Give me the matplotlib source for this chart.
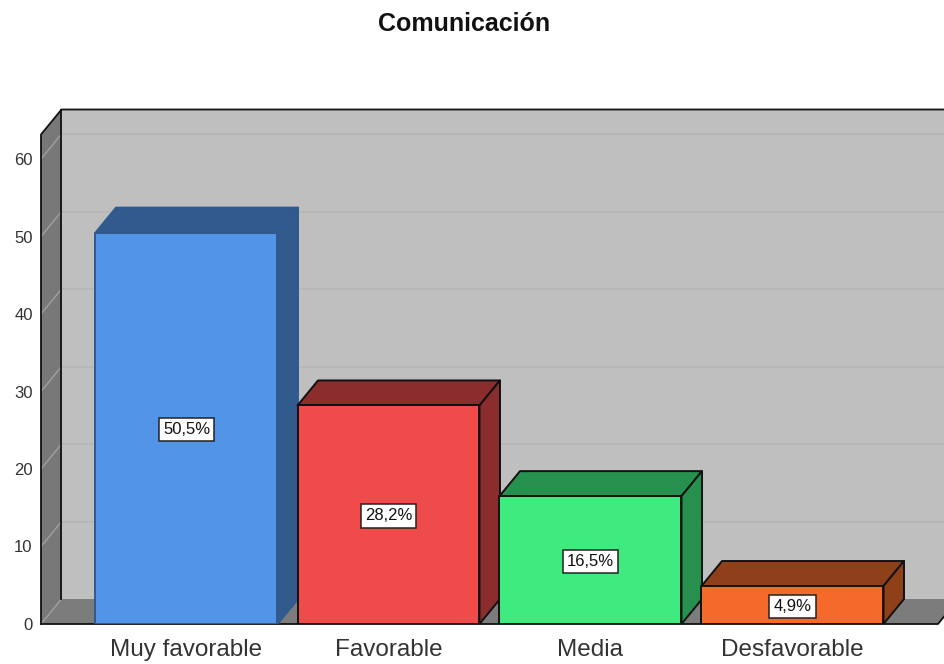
#!/usr/bin/env python3
import matplotlib
matplotlib.use("Agg")
import matplotlib.pyplot as plt
from matplotlib.patches import Polygon

plt.rcParams['font.family'] = ['Liberation Sans', 'DejaVu Sans']

categories = ["Muy favorable", "Favorable", "Media", "Desfavorable"]
values = [50.5, 28.2, 16.5, 4.9]
labels = ["50,5%", "28,2%", "16,5%", "4,9%"]
front_colors = ["#5294E6", "#F04B4B", "#3FEB7E", "#F56A2A"]
side_colors = ["#325A8C", "#8C2D2D", "#26904E", "#8F4018"]
edge_colors = ["#2F5A90", "#111111", "#111111", "#111111"]
y_ticks = [0, 10, 20, 30, 40, 50, 60]

# scale of the axes, in pixels per unit
W, H = 945, 664
PX_X = 202.0
PX_Y = 7.75
LEFT = 41
BOTTOM = 40
ZERO_X = 186.5

BAR_W = 182 / PX_X
DX = 20.5 / PX_X   # depth of the 3d effect
DY = 25 / PX_Y
WALL_TOP = (624 - 134.5) / PX_Y
FLOOR_END = (938 - ZERO_X) / PX_X


def poly(ax, pts, face, edge="none", lw=1.4, z=1):
    ax.add_patch(Polygon(pts, closed=True, facecolor=face, edgecolor=edge,
                         linewidth=lw, zorder=z, joinstyle="round"))


def draw_walls(ax, x0):
    # back wall, left wall, floor
    poly(ax, [(x0 + DX, DY), (FLOOR_END + DX, DY), (FLOOR_END + DX, WALL_TOP + DY),
              (x0 + DX, WALL_TOP + DY)], "#BFBFBF", z=1)
    poly(ax, [(x0, 0), (x0 + DX, DY), (x0 + DX, WALL_TOP + DY), (x0, WALL_TOP)], "#787878", z=2)
    poly(ax, [(x0, 0), (FLOOR_END, 0), (FLOOR_END + DX, DY), (x0 + DX, DY)], "#7C7C7C", z=2)
    for t in y_ticks[1:]:
        ax.plot([x0 + DX, FLOOR_END + DX], [t + DY, t + DY], color="#B5B5B5", lw=1.2, zorder=1.5)
        ax.plot([x0, x0 + DX], [t, t + DY], color="#A0A0A0", lw=1.0, zorder=2.5)
    ax.plot([x0, x0 + DX], [0, DY], color="#A0A0A0", lw=1.0, zorder=2.5)
    # outline of the box
    ax.plot([x0, x0, x0 + DX, FLOOR_END + DX], [0, WALL_TOP, WALL_TOP + DY, WALL_TOP + DY],
            color="#111111", lw=1.3, zorder=3, clip_on=False)
    ax.plot([x0 + DX, x0 + DX], [DY, WALL_TOP + DY], color="#111111", lw=1.3, zorder=3)
    ax.plot([x0, FLOOR_END, FLOOR_END + DX], [0, 0, DY], color="#111111", lw=1.3, zorder=3, clip_on=False)


def draw_bar(ax, i, v):
    x1 = i - BAR_W / 2
    x2 = i + BAR_W / 2
    z = 5 + i
    edge = edge_colors[i]
    poly(ax, [(x1, v), (x2, v), (x2 + DX, v + DY), (x1 + DX, v + DY)], side_colors[i], edge, z=z)
    poly(ax, [(x2, 0), (x2 + DX, DY), (x2 + DX, v + DY), (x2, v)], side_colors[i], edge, z=z)
    poly(ax, [(x1, 0), (x2, 0), (x2, v), (x1, v)], front_colors[i], edge, z=z)
    ax.text(i, v / 2 - 0.15, labels[i], ha="center", va="center", fontsize=12, color="#111111", zorder=20,
            bbox=dict(boxstyle="square,pad=0.25", facecolor="white", edgecolor="#222222", linewidth=1.1))


def main():
    fig = plt.figure(figsize=(W / 100, H / 100), dpi=100)
    ax = fig.add_axes([LEFT / W, BOTTOM / H, (W - LEFT) / W, (H - BOTTOM) / H])
    ax.set_xlim((LEFT - ZERO_X) / PX_X, (W - ZERO_X) / PX_X)
    ax.set_ylim(0, (H - BOTTOM) / PX_Y)
    for s in ax.spines.values():
        s.set_visible(False)
    ax.patch.set_alpha(0)

    draw_walls(ax, (LEFT - ZERO_X) / PX_X)
    for i, v in enumerate(values):
        draw_bar(ax, i, v)

    ax.set_xticks(range(len(categories)))
    ax.set_xticklabels(categories, fontsize=17.5, color="#333333")
    ax.set_yticks(y_ticks)
    ax.set_yticklabels([str(t) for t in y_ticks], fontsize=12, color="#333333")
    ax.tick_params(axis="both", length=0)
    ax.tick_params(axis="x", pad=11)
    ax.tick_params(axis="y", pad=6)

    fig.text(464 / W, 1 - 24 / H, "Comunicación", ha="center", va="center",
             fontsize=18, fontweight="bold", color="#111111")
    fig.savefig("out.png", dpi=100)


if __name__ == "__main__":
    main()
